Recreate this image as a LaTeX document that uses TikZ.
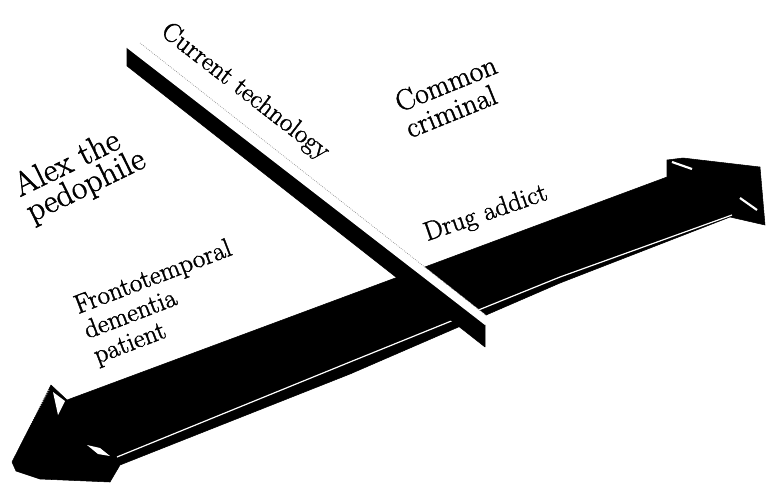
\documentclass[tikz,border=0pt]{standalone}
\usepackage{fontspec}
\newfontfamily\lblfont{Latin Modern Roman}[FakeBold=1.4]
\usepackage{tikz}
\usetikzlibrary{calc}

\begin{document}
\begin{tikzpicture}[
    x=0.75pt, y=-0.75pt,
    slab/.style={fill=black, draw=black, line join=round},
    glint/.style={white, line width=0.9pt},
    lbl/.style={align=left, inner sep=0pt},
]
\useasboundingbox (0,0) rectangle (767,482);

% Double arrow
\fill[slab] (12,462) -- (51,385) -- (67,400) -- (667,177) -- (667,160) -- (683,158)
    -- (760,167) -- (765,225) -- (730,217) -- (560,283) -- (350,374) -- (120,465)
    -- (110,482) -- (40,479) -- (16,471) -- cycle;

% Highlights on the arrow
\draw[glint] (117,457) -- (350,362) -- (560,277) -- (732,215);
\fill[white] (53,392) -- (65,401) -- (58,415) -- cycle;
\fill[white] (87,445) -- (100,448) -- (110,456) -- (98,454) -- cycle;
\draw[glint, line width=1.6pt] (672,162) -- (692,169);
\draw[glint, line width=1.6pt] (740,198) -- (757,210);
\draw[white, densely dotted, line width=0.6pt] (49,390) -- (14,455);

% Bar across the arrow
\fill[slab] (127,48) -- (485,325) -- (485,347) -- (127,66) -- cycle;
\fill[white] (140,43) -- (487,316) -- (485,325) -- (127,48) -- cycle;
\draw[gray, densely dotted, line width=0.5pt] (140,43) -- (487,316);

% Labels
\node[lbl, rotate=-37.8, font=\lblfont\fontsize{20}{21}\selectfont]
    (tech) at (245,92) {Current technology};
\node[lbl, rotate=26, font=\lblfont\fontsize{25}{21}\selectfont]
    (alex) at (80,174) {Alex the\\pedophile};
\node[lbl, rotate=22, font=\lblfont\fontsize{22}{21}\selectfont]
    (crim) at (451,96) {Common\\criminal};
\node[lbl, rotate=21, font=\lblfont\fontsize{20}{20}\selectfont]
    (ftd) at (163,303) {Frontotemporal\\dementia\\patient};
\node[lbl, rotate=19, font=\lblfont\fontsize{20}{20}\selectfont]
    (drug) at (486,214) {Drug addict};

\end{tikzpicture}
\end{document}
